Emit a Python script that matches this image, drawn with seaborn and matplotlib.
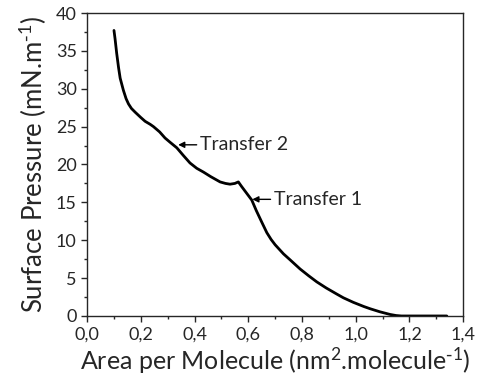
import matplotlib
matplotlib.use("Agg")
import matplotlib.pyplot as plt
import seaborn as sns
import pandas as pd
from matplotlib.ticker import MultipleLocator, FuncFormatter

# isotherm
area = [0.100, 0.104, 0.110, 0.117, 0.123, 0.135, 0.145, 0.154, 0.165, 0.179,
        0.200, 0.216, 0.235, 0.247, 0.270, 0.290, 0.310, 0.334, 0.358, 0.383,
        0.408, 0.433, 0.460, 0.495, 0.515, 0.532, 0.550, 0.563, 0.575, 0.594,
        0.613, 0.630, 0.650, 0.669, 0.685, 0.700, 0.731, 0.756, 0.793, 0.825,
        0.855, 0.890, 0.929, 0.954, 0.991, 1.030, 1.054, 1.090, 1.128, 1.150,
        1.170, 1.250, 1.339]
pressure = [37.7, 36.6, 34.7, 32.8, 31.4, 29.8, 28.7, 28.0, 27.4, 26.9,
            26.2, 25.7, 25.3, 25.0, 24.3, 23.5, 22.9, 22.2, 21.2, 20.2,
            19.5, 19.0, 18.4, 17.7, 17.5, 17.4, 17.5, 17.7, 17.1, 16.2,
            15.3, 13.9, 12.4, 11.0, 10.1, 9.4, 8.2, 7.4, 6.2, 5.3,
            4.5, 3.7, 2.9, 2.4, 1.8, 1.25, 0.95, 0.55, 0.2, 0.06,
            0.0, 0.0, 0.0]

notes = ["Transfer 2", "Transfer 1"]
note_xy = [(0.339, 22.6), (0.615, 15.4)]
note_text_x = [0.42, 0.695]

df = pd.DataFrame({"area": area, "pressure": pressure})

sns.set_style("ticks")
plt.rcParams['font.family'] = ['Lato', 'DejaVu Sans']
plt.rcParams['mathtext.default'] = 'regular'

fig, ax = plt.subplots(figsize=(4.84, 3.83), dpi=100)
sns.lineplot(data=df, x="area", y="pressure", sort=False, color="black", lw=2.0, ax=ax)

for txt, xy, tx in zip(notes, note_xy, note_text_x):
    ax.annotate(txt, xy=xy, xytext=(tx, xy[1]), fontsize=14, va="center", ha="left",
                arrowprops=dict(arrowstyle="-|>", color="black", lw=1.0,
                                shrinkA=0, shrinkB=0, mutation_scale=9))

ax.set_xlim(0, 1.4)
ax.set_ylim(0, 40)
ax.xaxis.set_major_locator(MultipleLocator(0.2))
ax.xaxis.set_minor_locator(MultipleLocator(0.1))
ax.yaxis.set_major_locator(MultipleLocator(5))
ax.yaxis.set_minor_locator(MultipleLocator(2.5))
ax.xaxis.set_major_formatter(FuncFormatter(lambda v, p: f"{v:.1f}".replace(".", ",")))
ax.tick_params(which="major", length=4, width=1, labelsize=13, direction="out")
ax.tick_params(which="minor", length=2.5, width=1, direction="out")
for s in ax.spines.values():
    s.set_visible(True)
    s.set_linewidth(1)
ax.set_xlabel(r"Area per Molecule (nm$^2$.molecule$^{\text{-}1}$)", fontsize=18, labelpad=2)
ax.set_ylabel(r"Surface Pressure (mN.m$^{\text{-}1}$)", fontsize=18.5, labelpad=5)

fig.subplots_adjust(left=0.18, right=0.957, top=0.966, bottom=0.175)
fig.savefig("out.png", dpi=100)
